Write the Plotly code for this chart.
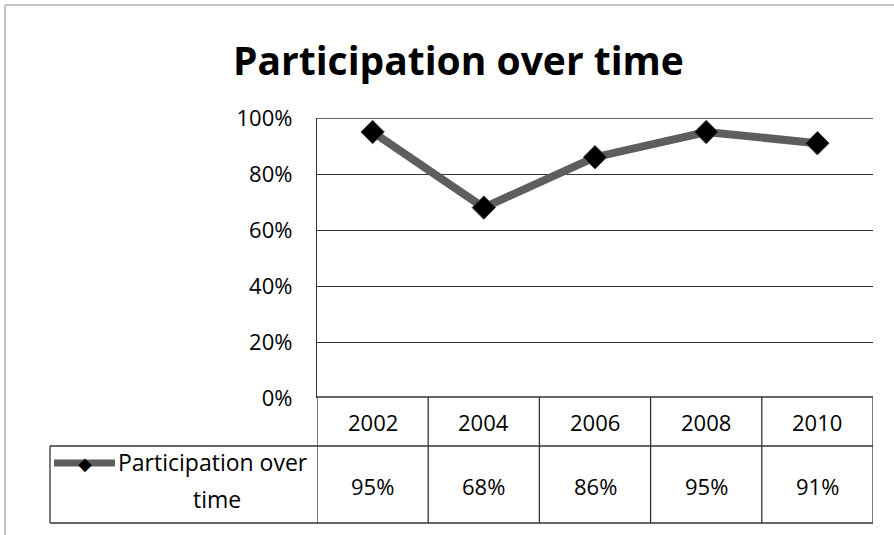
import plotly.graph_objects as go

# ---- data ----
years = ["2002", "2004", "2006", "2008", "2010"]
participation = [0.95, 0.68, 0.86, 0.95, 0.91]
y_ticks = [0, 0.2, 0.4, 0.6, 0.8, 1.0]
y_tick_labels = ["0%", "20%", "40%", "60%", "80%", "100%"]
series_name = "Participation over time"

W, H = 894, 535
L, R, T, B = 317, 873, 118, 398  # plot area in pixels
PW, PH = R - L, B - T

def xp(px):
    return (px - L) / PW

def yp(py):
    return (B - py) / PH

FONT = "'Open Sans', Lato, sans-serif"
LINE_COL = "#5e5e5e"
GRID_COL = "#333333"
FS = 22

fig = go.Figure()
fig.add_trace(go.Scatter(
    x=years, y=participation, mode="lines+markers",
    name=series_name,
    line=dict(color=LINE_COL, width=8),
    marker=dict(symbol="diamond", size=18, color="#000000",
                line=dict(color="#444444", width=1)),
    cliponaxis=False, showlegend=False,
))

shapes = []
shapes.append(dict(type="line", xref="paper", yref="paper",
                   x0=xp(5), x1=xp(894), y0=yp(5), y1=yp(5),
                   line=dict(color="#8a8a8a", width=1)))
shapes.append(dict(type="line", xref="paper", yref="paper",
                   x0=xp(5), x1=xp(5), y0=yp(5), y1=yp(535),
                   line=dict(color="#8a8a8a", width=1)))
shapes.append(dict(type="line", xref="paper", yref="y", x0=0, x1=1,
                   y0=y_ticks[-1], y1=y_ticks[-1], line=dict(color=GRID_COL, width=1.3)))

row_top, row_mid, row_bot = 397, 446, 523
leg_left = 50
tbl_line = dict(color="#333333", width=1.3)
n = len(years)
for i in range(n + 1):
    xv = i - 0.5
    shapes.append(dict(type="line", xref="x", yref="paper",
                       x0=xv, x1=xv, y0=yp(row_top), y1=yp(row_bot), line=tbl_line))
shapes.append(dict(type="line", xref="x", yref="paper", x0=-0.5, x1=n - 0.5,
                   y0=yp(row_top), y1=yp(row_top), line=tbl_line))
shapes.append(dict(type="line", xref="paper", yref="paper", x0=xp(leg_left), x1=1,
                   y0=yp(row_mid), y1=yp(row_mid), line=tbl_line))
shapes.append(dict(type="line", xref="paper", yref="paper", x0=xp(leg_left), x1=1,
                   y0=yp(row_bot), y1=yp(row_bot), line=tbl_line))
shapes.append(dict(type="line", xref="paper", yref="paper", x0=xp(leg_left), x1=xp(leg_left),
                   y0=yp(row_mid), y1=yp(row_bot), line=tbl_line))
shapes.append(dict(type="line", xref="paper", yref="paper", x0=xp(54), x1=xp(115),
                   y0=yp(463), y1=yp(463), line=dict(color=LINE_COL, width=7)))

annotations = []
annotations.append(dict(text="<b>Participation over time</b>", xref="paper", yref="paper",
                        x=xp(458), y=yp(59), xanchor="center", yanchor="middle",
                        showarrow=False, font=dict(family=FONT, size=39, color="#000")))
for i, (yr, v) in enumerate(zip(years, participation)):
    annotations.append(dict(text=yr, xref="x", yref="paper", x=i,
                            y=yp((row_top + row_mid) / 2), xanchor="center", yanchor="middle",
                            showarrow=False, font=dict(family=FONT, size=FS, color="#000")))
    annotations.append(dict(text=f"{round(v * 100)}%", xref="x", yref="paper", x=i,
                            y=yp(486), xanchor="center", yanchor="middle",
                            showarrow=False, font=dict(family=FONT, size=FS, color="#000")))
annotations.append(dict(text="◆", xref="paper", yref="paper", x=xp(85), y=yp(463),
                        xanchor="center", yanchor="middle", showarrow=False,
                        font=dict(family="DejaVu Sans", size=18, color="#000")))
annotations.append(dict(text="Participation over", xref="paper", yref="paper",
                        x=xp(116), y=yp(462), xanchor="left", yanchor="middle",
                        showarrow=False, font=dict(family=FONT, size=23, color="#000")))
annotations.append(dict(text="time", xref="paper", yref="paper",
                        x=xp(217), y=yp(499), xanchor="center", yanchor="middle",
                        showarrow=False, font=dict(family=FONT, size=23, color="#000")))

fig.update_layout(
    width=W, height=H,
    margin=dict(l=L, r=W - R, t=T, b=H - B, pad=0),
    paper_bgcolor="white", plot_bgcolor="white",
    font=dict(family=FONT, size=FS, color="#000"),
    xaxis=dict(type="category", range=[-0.5, n - 0.5], showticklabels=False,
               showgrid=False, zeroline=False, showline=False, ticks=""),
    yaxis=dict(range=[0, 1], tickvals=y_ticks, ticktext=y_tick_labels,
               showgrid=True, gridcolor=GRID_COL, gridwidth=1.3,
               zeroline=False, showline=True, linecolor=GRID_COL, linewidth=1.3,
               ticks="", ticklabelstandoff=19,
               tickfont=dict(family=FONT, size=FS, color="#000")),
    shapes=shapes, annotations=annotations,
)

fig.write_html("out.html")
